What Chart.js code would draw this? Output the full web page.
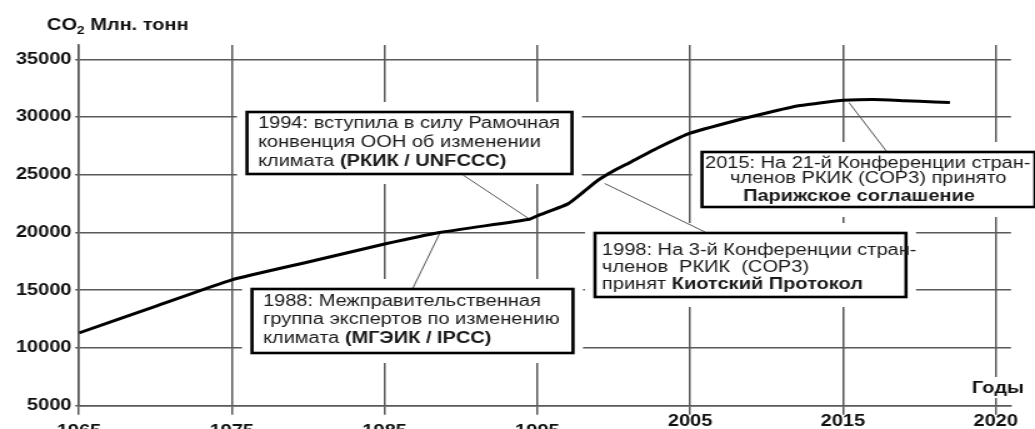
<!DOCTYPE html>
<html>
<head>
<meta charset="utf-8">
<script src="https://cdn.jsdelivr.net/npm/chart.js@4.4.1/dist/chart.umd.min.js"></script>
<style>
  html, body { margin: 0; padding: 0; background: #fff; overflow: hidden; }
  #c { display: block; width: 1035px; height: 429px; }
</style>
</head>
<body>
<canvas id="c" width="828" height="429" style="width:1035px;height:429px"></canvas>
<script>
// ---- data ----
const years = [1965, 1970, 1975, 1980, 1985, 1988.6, 1994.5, 1995, 1997, 1998, 1999, 2000, 2001, 2003, 2005, 2008, 2010, 2012, 2014, 2015, 2016, 2017, 2018, 2018.5];
const emissions = [11300, 13600, 15900, 17450, 19000, 20000, 21150, 21450, 22480, 23500, 24550, 25350, 26030, 27400, 28600, 29700, 30350, 30950, 31300, 31450, 31530, 31420, 31300, 31250];
const xTickLabels = ['1965', '1975', '1985', '1995', '2005', '2015', '2020'];
const yTicks = [5000, 10000, 15000, 20000, 25000, 30000, 35000];
const yAxisTitle = 'Млн. тонн';
const xAxisTitle = 'Годы';
// annotation anchor points on the curve (year, value)
const annoYears = [1994.5, 1988.6, 1999.4, 2015.2];
const annoValues = [21150, 19900, 24250, 31250];
const annoTexts = [
  [[['1994: вступила в силу Рамочная', false]], [['конвенция ООН об изменении', false]], [['климата ', false], ['(РКИК / UNFCCC)', true]]],
  [[['1988: Межправительственная', false]], [['группа экспертов по изменению', false]], [['климата', false], [' (МГЭИК / IPCC)', true]]],
  [[['1998: На 3-й Конференции стран-', false]], [['членов  РКИК  (COP3)', false]], [['принят ', false], ['Киотский Протокол', true]]],
  [[['2015: На 21-й Конференции стран-', false]], [['членов РКИК (COP3) принято', false]], [['Парижское соглашение', true]]]
];

// ---- layout (reference pixels; the canvas is stretched horizontally by SX) ----
const SX = 1.25;
const FAM = '"Liberation Sans", Arial, sans-serif';
const boxes = [
  {x: 247, y: 112, w: 325, h: 62, tx: [258, 258, 258], by: [128, 147, 166], lx: 463, ly: 175},
  {x: 252, y: 289, w: 321, h: 64, tx: [263, 263, 263], by: [306, 324, 343], lx: 412, ly: 290},
  {x: 595, y: 233, w: 311, h: 64, tx: [602, 602, 602], by: [255, 272, 289], lx: 705, ly: 232},
  {x: 702, y: 152, w: 333, h: 55, tx: [705, 730, 743], by: [168, 183, 201], lx: 887, ly: 152}
];

function yearToAxis(y) { return y <= 2015 ? (y - 1965) / 10 : 5 + (y - 2015) / 5; }

const annoPlugin = {
  id: 'anno',
  beforeDatasetsDraw(chart) {
    const c = chart.ctx;
    const xs = chart.scales.x, ys = chart.scales.y;
    c.save();
    // white margins that break the grid around the boxes
    c.fillStyle = '#fff';
    boxes.forEach(b => c.fillRect((b.x - 10) / SX, b.y - 10, (b.w + 20) / SX, b.h + 20));
    // white gap around the "Годы" label
    c.fillRect(966 / SX, 377, 66 / SX, 21);
    // leader lines
    c.strokeStyle = '#555';
    c.lineWidth = 1;
    boxes.forEach((b, i) => {
      c.beginPath();
      c.moveTo(b.lx / SX, b.ly);
      c.lineTo(xs.getPixelForValue(yearToAxis(annoYears[i])), ys.getPixelForValue(annoValues[i]));
      c.stroke();
    });
    // boxes
    boxes.forEach(b => {
      c.fillStyle = '#fff';
      c.fillRect(b.x / SX, b.y, b.w / SX, b.h);
      c.strokeStyle = '#000';
      c.lineWidth = 2.6;
      c.strokeRect(b.x / SX, b.y, b.w / SX, b.h);
    });
    // texts
    c.fillStyle = '#1a1a1a';
    c.textBaseline = 'alphabetic';
    c.textAlign = 'left';
    boxes.forEach((b, i) => {
      annoTexts[i].forEach((line, li) => {
        let x = b.tx[li] / SX;
        line.forEach(([t, bold]) => {
          c.font = (bold ? 'bold ' : '') + '16px ' + FAM;
          c.fillText(t, x, b.by[li]);
          x += c.measureText(t).width;
        });
      });
    });
    c.restore();
  },
  afterDraw(chart) {
    const c = chart.ctx;
    c.save();
    c.fillStyle = '#111';
    c.textBaseline = 'alphabetic';
    c.textAlign = 'left';
    // y axis title: CO2 Млн. тонн
    let x = 47 / SX;
    c.font = 'bold 16px ' + FAM;
    c.fillText('CO', x, 30);
    x += c.measureText('CO').width;
    c.font = 'bold 11px ' + FAM;
    c.fillText('2', x, 34);
    x += c.measureText('2').width;
    c.font = 'bold 16px ' + FAM;
    c.fillText(' ' + yAxisTitle, x, 30);
    // x axis title
    c.fillText(xAxisTitle, 972 / SX, 393);
    c.restore();
  }
};

const GRID = '#595959';
new Chart(document.getElementById('c'), {
  type: 'line',
  data: {
    datasets: [{
      data: years.map((y, i) => ({x: yearToAxis(y), y: emissions[i]})),
      borderColor: '#000',
      borderWidth: 3,
      pointRadius: 0,
      tension: 0.15,
      fill: false
    }]
  },
  options: {
    responsive: false,
    animation: false,
    devicePixelRatio: 1,
    layout: {padding: {left: 0, right: 24 / SX, top: 45, bottom: 0}},
    plugins: {legend: {display: false}, tooltip: {enabled: false}},
    scales: {
      x: {
        type: 'linear',
        min: 0,
        max: 6.1,
        afterBuildTicks: s => { s.ticks = xTickLabels.map(l => ({value: yearToAxis(+l)})); },
        afterFit: s => { s.height = 23.3; },
        ticks: {
          autoSkip: false,
          maxRotation: 0,
          padding: -3,
          color: '#111',
          callback: (v, i) => xTickLabels[i],
          font: ctx => ({family: FAM, size: 16, weight: 'bold', lineHeight: ctx.index < 4 ? 2.45 : 1.2})
        },
        grid: {color: GRID, lineWidth: 1.5, tickLength: 9},
        border: {color: GRID, width: 1.5}
      },
      y: {
        min: 5000,
        max: 36240,
        afterBuildTicks: s => { s.ticks = yTicks.map(v => ({value: v})); },
        afterFit: s => { s.width = 79 / SX; },
        ticks: {
          padding: 3,
          color: '#111',
          callback: v => String(v),
          font: {family: FAM, size: 16, weight: 'bold'}
        },
        grid: {color: GRID, lineWidth: 1.5, tickLength: 3},
        border: {color: GRID, width: 1.5}
      }
    }
  },
  plugins: [annoPlugin]
});
</script>
</body>
</html>
